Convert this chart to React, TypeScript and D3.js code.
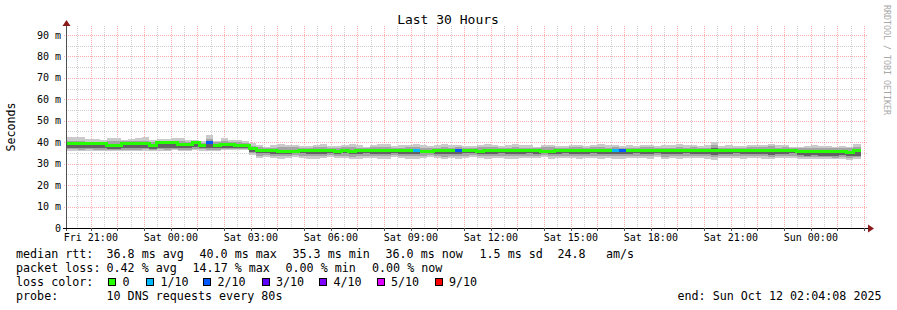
import React from "react";
import * as d3 from "d3";

const W = 897;
const H = 310;

// time window (graph shows last 30 hours ending at Sun Oct 12 02:04:08 2025)
const tStart = new Date(Date.UTC(2025, 9, 10, 20, 4, 8));
const tEnd = new Date(Date.UTC(2025, 9, 12, 2, 4, 8));
const firstStep = new Date(Date.UTC(2025, 9, 10, 20, 0, 0));
const STEP_MIN = 16;
const Y_MAX = 93.26;

const xTickLabels = [
  "Fri 21:00", "Sat 00:00", "Sat 03:00", "Sat 06:00", "Sat 09:00",
  "Sat 12:00", "Sat 15:00", "Sat 18:00", "Sat 21:00", "Sun 00:00",
];
const yTicks = [0, 10, 20, 30, 40, 50, 60, 70, 80, 90];
const yTickLabels = ["0", "10 m", "20 m", "30 m", "40 m", "50 m", "60 m", "70 m", "80 m", "90 m"];

// median RTT per 16-minute step (ms)
const median = [
  39.4, 39.4, 39.4, 39.3, 39.2, 39.2, 38.5, 38.5, 39.6, 39.6,
  39.5, 39.3, 38.4, 39.8, 39.8, 39.8, 38.9, 38.9, 40.0, 38.6,
  40.0, 38.6, 39.0, 39.0, 38.5, 38.5, 37.1,
  36.0, 36.0, 36.0, 35.9, 35.9, 35.9, 36.0, 36.0, 36.0, 36.0,
  36.0, 35.9, 36.0, 35.6, 36.0, 36.0, 36.0, 36.1, 36.1, 36.0,
  36.0, 36.0, 36.1, 35.9, 35.9, 36.0, 36.0, 36.0, 36.1, 36.0,
  36.0, 35.9, 36.0, 36.0, 36.0, 36.1, 36.1, 36.0, 36.0, 36.0,
  35.9, 35.9, 36.0, 36.0, 36.0, 36.0, 36.1, 36.1, 36.0, 36.0,
  36.2, 36.2, 36.0, 36.0, 36.0, 36.0, 36.1, 36.1, 36.1, 36.0,
  36.0, 36.0, 36.0, 36.0, 36.1, 36.1, 36.1, 36.1, 36.0, 36.0,
  36.0, 36.0, 36.0, 36.0, 36.0, 36.0, 35.9, 35.9, 35.9, 35.9,
  35.9, 35.9, 35.9, 35.3, 36.0,
];

// smoke: outer band (min..max ping)
const outerHi = [
  42.5, 42.5, 42.5, 41.5, 41.5, 41.0, 41.8, 41.8, 41.0, 41.5,
  42.0, 42.3, 41.0, 41.5, 41.5, 42.0, 42.0, 41.0, 41.0, 40.5,
  43.2, 40.8, 42.2, 41.0, 41.0, 40.5, 39.5,
  38.8, 38.0, 38.6, 39.0, 38.9, 38.9, 38.2, 38.2, 38.7, 39.1,
  38.4, 38.4, 38.8, 39.3, 38.5, 38.0, 38.6, 39.2, 39.1, 38.3,
  38.5, 38.8, 39.0, 38.5, 38.2, 38.6, 39.2, 38.6, 38.9, 38.4,
  38.2, 38.8, 39.0, 38.7, 38.2, 38.5, 39.1, 38.6, 38.6, 38.0,
  38.8, 38.9, 38.3, 38.3, 38.7, 38.7, 38.4, 38.9, 39.2, 38.5,
  38.8, 38.4, 38.6, 38.2, 38.8, 38.8, 38.1, 38.5, 38.5, 39.0,
  38.6, 38.8, 38.3, 38.6, 40.3, 38.4, 38.6, 38.1, 38.4, 38.7,
  38.8, 38.8, 39.4, 38.6, 38.8, 37.8, 38.0, 38.2, 38.5, 38.1,
  38.2, 37.9, 38.2, 37.9, 39.2,
];
const outerLo = [
  36.1, 36.1, 36.1, 36.0, 36.0, 35.8, 36.1, 36.1, 36.0, 35.8,
  35.8, 36.1, 36.1, 36.0, 35.8, 36.3, 36.1, 36.0, 36.3, 36.1,
  35.9, 36.1, 36.3, 36.4, 36.3, 36.4, 34.0,
  32.8, 33.0, 32.5, 32.3, 32.6, 33.0, 32.8, 32.4, 32.2, 32.6,
  32.9, 32.5, 32.8, 32.0, 32.4, 32.8, 32.5, 32.2, 32.4, 32.9,
  32.5, 32.4, 32.2, 32.8, 32.9, 32.5, 32.1, 32.6, 32.4, 32.8,
  32.9, 32.5, 32.2, 32.6, 32.8, 32.4, 32.2, 32.6, 32.8, 32.5,
  32.9, 32.4, 32.5, 32.8, 32.6, 32.2, 32.5, 32.8, 32.4, 32.5,
  32.2, 32.4, 32.6, 32.8, 32.5, 32.4, 32.9, 32.0, 32.5, 32.4,
  32.8, 32.5, 32.6, 32.4, 31.8, 32.6, 32.5, 32.8, 32.4, 32.5,
  32.6, 32.4, 32.0, 32.5, 32.6, 32.8, 32.4, 32.2, 32.3, 32.1,
  32.2, 32.0, 32.3, 31.9, 32.2,
];
// smoke: middle band
const midHi = [
  40.6, 40.6, 40.5, 40.3, 40.2, 40.0, 40.4, 40.4, 40.4, 40.6,
  40.8, 40.6, 40.0, 40.5, 40.5, 40.8, 40.4, 40.2, 40.3, 39.8,
  41.5, 40.0, 40.6, 40.3, 40.0, 39.8, 38.3,
  37.6, 37.3, 37.5, 37.8, 37.7, 37.6, 37.3, 37.4, 37.6, 37.8,
  37.4, 37.4, 37.6, 37.9, 37.5, 37.2, 37.6, 37.9, 37.8, 37.4,
  37.5, 37.6, 37.8, 37.5, 37.3, 37.5, 37.8, 37.5, 37.7, 37.4,
  37.3, 37.6, 37.8, 37.6, 37.3, 37.5, 37.8, 37.5, 37.5, 37.2,
  37.6, 37.7, 37.4, 37.3, 37.6, 37.6, 37.4, 37.7, 37.9, 37.5,
  37.7, 37.5, 37.5, 37.3, 37.6, 37.6, 37.2, 37.4, 37.4, 37.8,
  37.5, 37.6, 37.3, 37.5, 38.8, 37.4, 37.5, 37.2, 37.4, 37.6,
  37.6, 37.7, 38.3, 37.5, 37.6, 37.2, 37.3, 37.4, 37.5, 37.3,
  37.4, 37.2, 37.4, 37.2, 37.8,
];
const midLo = [
  36.8, 36.8, 36.6, 36.8, 36.6, 36.5, 36.5, 36.5, 36.6, 36.5,
  36.6, 36.8, 36.5, 36.7, 36.6, 36.9, 36.6, 36.6, 36.9, 36.7,
  36.6, 36.6, 36.8, 36.9, 36.8, 36.9, 34.8,
  33.8, 34.0, 33.6, 33.5, 33.7, 34.0, 33.8, 33.6, 33.4, 33.7,
  33.9, 33.6, 33.8, 33.2, 33.5, 33.8, 33.6, 33.4, 33.5, 33.9,
  33.6, 33.5, 33.4, 33.8, 33.9, 33.6, 33.3, 33.7, 33.5, 33.8,
  33.9, 33.6, 33.4, 33.7, 33.8, 33.5, 33.4, 33.7, 33.8, 33.6,
  33.9, 33.5, 33.6, 33.8, 33.7, 33.4, 33.6, 33.8, 33.5, 33.6,
  33.4, 33.5, 33.7, 33.8, 33.6, 33.5, 33.9, 33.2, 33.6, 33.5,
  33.8, 33.6, 33.7, 33.5, 33.0, 33.7, 33.6, 33.8, 33.5, 33.6,
  33.7, 33.5, 33.2, 33.6, 33.7, 33.8, 33.2, 33.0, 33.1, 32.9,
  33.0, 32.8, 33.1, 32.7, 33.0,
];
// smoke: inner band
const innerHi = [
  39.5, 39.5, 39.3, 39.3, 39.2, 39.0, 38.8, 38.8, 39.4, 39.5,
  39.5, 39.4, 38.7, 39.6, 39.6, 39.5, 39.2, 39.0, 39.8, 39.0,
  39.8, 39.0, 39.3, 39.3, 39.0, 38.8, 37.4,
  36.4, 36.3, 36.5, 36.6, 36.5, 36.4, 36.4, 36.4, 36.5, 36.6,
  36.4, 36.3, 36.5, 36.3, 36.5, 36.4, 36.5, 36.6, 36.6, 36.4,
  36.4, 36.5, 36.6, 36.4, 36.3, 36.4, 36.5, 36.4, 36.6, 36.4,
  36.3, 36.5, 36.6, 36.5, 36.4, 36.5, 36.6, 36.5, 36.4, 36.3,
  36.4, 36.5, 36.4, 36.3, 36.5, 36.5, 36.4, 36.6, 36.6, 36.4,
  36.7, 36.7, 36.5, 36.4, 36.5, 36.5, 36.4, 36.6, 36.6, 36.6,
  36.4, 36.5, 36.4, 36.5, 37.3, 36.4, 36.5, 36.3, 36.4, 36.5,
  36.5, 36.5, 36.9, 36.4, 36.5, 36.3, 36.4, 36.4, 36.4, 36.3,
  36.3, 36.2, 36.3, 35.8, 36.4,
];
const innerLo = [
  37.4, 37.4, 37.3, 37.5, 37.2, 37.1, 36.9, 36.9, 37.4, 37.2,
  37.3, 37.5, 36.9, 37.4, 37.4, 37.5, 37.2, 37.1, 37.6, 37.3,
  37.4, 37.2, 37.4, 37.5, 37.3, 37.4, 35.6,
  34.8, 35.0, 34.6, 34.5, 34.7, 34.9, 34.8, 34.6, 34.4, 34.7,
  34.9, 34.6, 34.8, 34.3, 34.5, 34.8, 34.6, 34.4, 34.5, 34.9,
  34.6, 34.5, 34.4, 34.8, 34.9, 34.6, 34.3, 34.7, 34.5, 34.8,
  34.9, 34.6, 34.4, 34.7, 34.8, 34.5, 34.4, 34.7, 34.8, 34.6,
  34.9, 34.5, 34.6, 34.8, 34.7, 34.4, 34.6, 34.8, 34.5, 34.6,
  34.4, 34.5, 34.7, 34.8, 34.6, 34.5, 34.9, 34.3, 34.6, 34.5,
  34.8, 34.6, 34.7, 34.5, 34.0, 34.7, 34.6, 34.8, 34.5, 34.6,
  34.7, 34.5, 34.2, 34.6, 34.7, 34.8, 34.0, 33.8, 33.9, 33.7,
  33.8, 33.6, 33.9, 33.5, 33.8,
];

// steps with packet loss: [step index, lost pings out of 10]
const lossSteps: [number, number][] = [[20, 2], [49, 1], [55, 2], [77, 1], [78, 2]];

const lossLegend = [
  { label: "0", color: "#26ff00" },
  { label: "1/10", color: "#00b8ff" },
  { label: "2/10", color: "#0059ff" },
  { label: "3/10", color: "#5e00ff" },
  { label: "4/10", color: "#7e00ff" },
  { label: "5/10", color: "#dd00ff" },
  { label: "9/10", color: "#ff0000" },
];

const legendLine1: [string, number][] = [
  ["median rtt:", 16], ["36.8 ms avg", 106.5], ["40.0 ms max", 199.5], ["35.3 ms min", 292.5],
  ["36.0 ms now", 385.5], ["1.5 ms sd", 479.5], ["24.8", 557.5], ["am/s", 606],
];
const legendLine2: [string, number][] = [
  ["packet loss:", 16], ["0.42 % avg", 106.5], ["14.17 % max", 192.5], ["0.00 % min", 285.5], ["0.00 % now", 372],
];
const legendLine4: [string, number][] = [
  ["probe:", 16], ["10 DNS requests every 80s", 106.5], ["end: Sun Oct 12 02:04:08 2025", 677.5],
];

const FONT = "'DejaVu Sans Mono', monospace";

function lossIndex(n: number) {
  if (n <= 0) return 0;
  if (n <= 4) return n;
  if (n <= 8) return 5;
  return 6;
}

export default function App() {
  const left = 66, right = 866, top = 28, bottom = 228;
  const x = d3.scaleUtc().domain([tStart, tEnd]).range([left, right]);
  const y = d3.scaleLinear().domain([0, Y_MAX]).range([bottom, top]);
  const stepT = (k: number) => new Date(firstStep.getTime() + k * STEP_MIN * 60000);

  const lossMap = new Map(lossSteps.map(([k, n]) => [k, n]));
  const colorAt = (k: number) => lossLegend[lossIndex(lossMap.get(k) || 0)].color;

  const hourLines = d3.utcHour.range(tStart, tEnd);
  const halfLines = d3.utcMinute.every(30)!.range(tStart, tEnd).filter((d) => d.getUTCMinutes() === 30);
  const labelTicks = d3.utcHour.every(3)!.range(tStart, tEnd);

  const minorY = d3.range(5, 95, 10);
  const majorY = yTicks.filter((v) => v > 0);

  // group median into runs of same colour
  const runs: { color: string; ks: number[] }[] = [];
  median.forEach((_, k) => {
    const c = colorAt(k);
    const last = runs[runs.length - 1];
    if (last && last.color === c) last.ks.push(k);
    else runs.push({ color: c, ks: [k] });
  });
  const line = d3
    .line<[number, number]>()
    .x((d) => d[0])
    .y((d) => d[1])
    .curve(d3.curveStepAfter);

  const bands = [
    { lo: outerLo, hi: outerHi, color: "#cacaca" },
    { lo: midLo, hi: midHi, color: "#a4a4a4" },
    { lo: innerLo, hi: innerHi, color: "#626262" },
  ];

  const minorStyle = { stroke: "rgba(150,150,150,0.45)", strokeDasharray: "1,1", strokeWidth: 1 };
  const majorStyle = { stroke: "rgba(255,60,60,0.42)", strokeDasharray: "1,1", strokeWidth: 1 };

  const swatchX = [108.5, 146.5, 203.5, 262, 319.5, 377, 435];

  return (
    <svg
      width={W}
      height={H}
      viewBox={`0 0 ${W} ${H}`}
      style={{ position: "absolute", left: 0, top: 0, background: "#ffffff", display: "block" }}
      fontFamily={FONT}
    >
      <rect x={0} y={0} width={W} height={H} fill="#ffffff" />
      <defs>
        <clipPath id="plot">
          <rect x={left} y={top - 2} width={right - left} height={bottom - top + 2} />
        </clipPath>
      </defs>

      {/* grid */}
      <g shapeRendering="crispEdges">
        {halfLines.map((d, i) => (
          <line key={"hv" + i} x1={Math.round(x(d)) + 0.5} x2={Math.round(x(d)) + 0.5} y1={top - 2} y2={bottom} {...minorStyle} />
        ))}
        {minorY.map((v) => (
          <line key={"hm" + v} x1={left} x2={right + 2} y1={Math.round(y(v)) + 0.5} y2={Math.round(y(v)) + 0.5} {...minorStyle} />
        ))}
        {hourLines.map((d, i) => (
          <line key={"mv" + i} x1={Math.round(x(d)) + 0.5} x2={Math.round(x(d)) + 0.5} y1={top - 2} y2={bottom + 3} {...majorStyle} />
        ))}
        {majorY.map((v) => (
          <line key={"mh" + v} x1={left - 2} x2={right + 2} y1={Math.round(y(v)) + 0.5} y2={Math.round(y(v)) + 0.5} {...majorStyle} />
        ))}
      </g>

      {/* smoke */}
      <g clipPath="url(#plot)" shapeRendering="crispEdges">
        {bands.map((b, bi) =>
          median.map((_, k) => {
            const x0 = x(stepT(k));
            const x1 = x(stepT(k + 1));
            const yh = y(b.hi[k]);
            const yl = y(b.lo[k]);
            return <rect key={bi + "-" + k} x={x0} y={yh} width={x1 - x0} height={yl - yh} fill={b.color} />;
          })
        )}
        {/* median coloured by loss */}
        {runs.map((r, i) => {
          const pts: [number, number][] = r.ks.map((k) => [x(stepT(k)), y(median[k])]);
          const lastK = r.ks[r.ks.length - 1];
          pts.push([x(stepT(lastK + 1)), y(median[lastK])]);
          return <path key={"m" + i} d={line(pts) || ""} fill="none" stroke={r.color} strokeWidth={3} />;
        })}
      </g>

      {/* axes */}
      <line x1={left + 0.5} x2={left + 0.5} y1={bottom + 3} y2={top - 4} stroke="#505050" strokeWidth={1} shapeRendering="crispEdges" />
      <line x1={left - 3} x2={right + 4} y1={bottom + 0.5} y2={bottom + 0.5} stroke="#000" strokeWidth={1} shapeRendering="crispEdges" />
      {hourLines.map((d, i) => (
        <line key={"tk" + i} x1={Math.round(x(d)) + 0.5} x2={Math.round(x(d)) + 0.5} y1={bottom} y2={bottom + 3} stroke="#555" shapeRendering="crispEdges" />
      ))}
      <path d={`M${left - 3.5},${top - 2} L${left + 0.5},${top - 8} L${left + 4.5},${top - 2} Z`} fill="#8b1a1a" />
      <path d={`M${right + 2},${bottom - 3.5} L${right + 8},${bottom + 0.5} L${right + 2},${bottom + 4.5} Z`} fill="#8b1a1a" />

      {/* y labels */}
      {yTicks.map((v, i) => (
        <text key={"yl" + v} x={61} y={y(v) + 3.6} fontSize={10} textAnchor="end" fill="#000">
          {yTickLabels[i]}
        </text>
      ))}
      {/* x labels */}
      {labelTicks.map((d, i) => (
        <text key={"xl" + i} x={x(d)} y={241} fontSize={10} textAnchor="middle" fill="#000">
          {xTickLabels[i]}
        </text>
      ))}

      {/* title */}
      <text x={448} y={24} fontSize={13} textAnchor="middle" fill="#000">
        Last 30 Hours
      </text>
      {/* vertical axis label */}
      <text transform="translate(15,127) rotate(-90)" fontSize={11.6} textAnchor="middle" fill="#000">
        Seconds
      </text>
      {/* watermark */}
      <text transform="translate(883.5,5) rotate(90)" fontSize={8.3} fill="#a8a8a8">
        RRDTOOL / TOBI OETIKER
      </text>

      {/* legend */}
      <g fontSize={11.7} fill="#000" style={{ whiteSpace: "pre" }}>
        {legendLine1.map(([t, lx], i) => (
          <text key={"l1" + i} x={lx} y={257.5}>{t}</text>
        ))}
        {legendLine2.map(([t, lx], i) => (
          <text key={"l2" + i} x={lx} y={271.7}>{t}</text>
        ))}
        <text x={16} y={285.9}>loss color:</text>
        {lossLegend.map((l, i) => (
          <g key={"sw" + i}>
            <rect x={swatchX[i]} y={278.5} width={7} height={7} fill={l.color} stroke="#000" strokeWidth={1} shapeRendering="crispEdges" />
            <text x={swatchX[i] + 14} y={285.9}>{l.label}</text>
          </g>
        ))}
        {legendLine4.map(([t, lx], i) => (
          <text key={"l4" + i} x={lx} y={300}>{t}</text>
        ))}
      </g>
    </svg>
  );
}
